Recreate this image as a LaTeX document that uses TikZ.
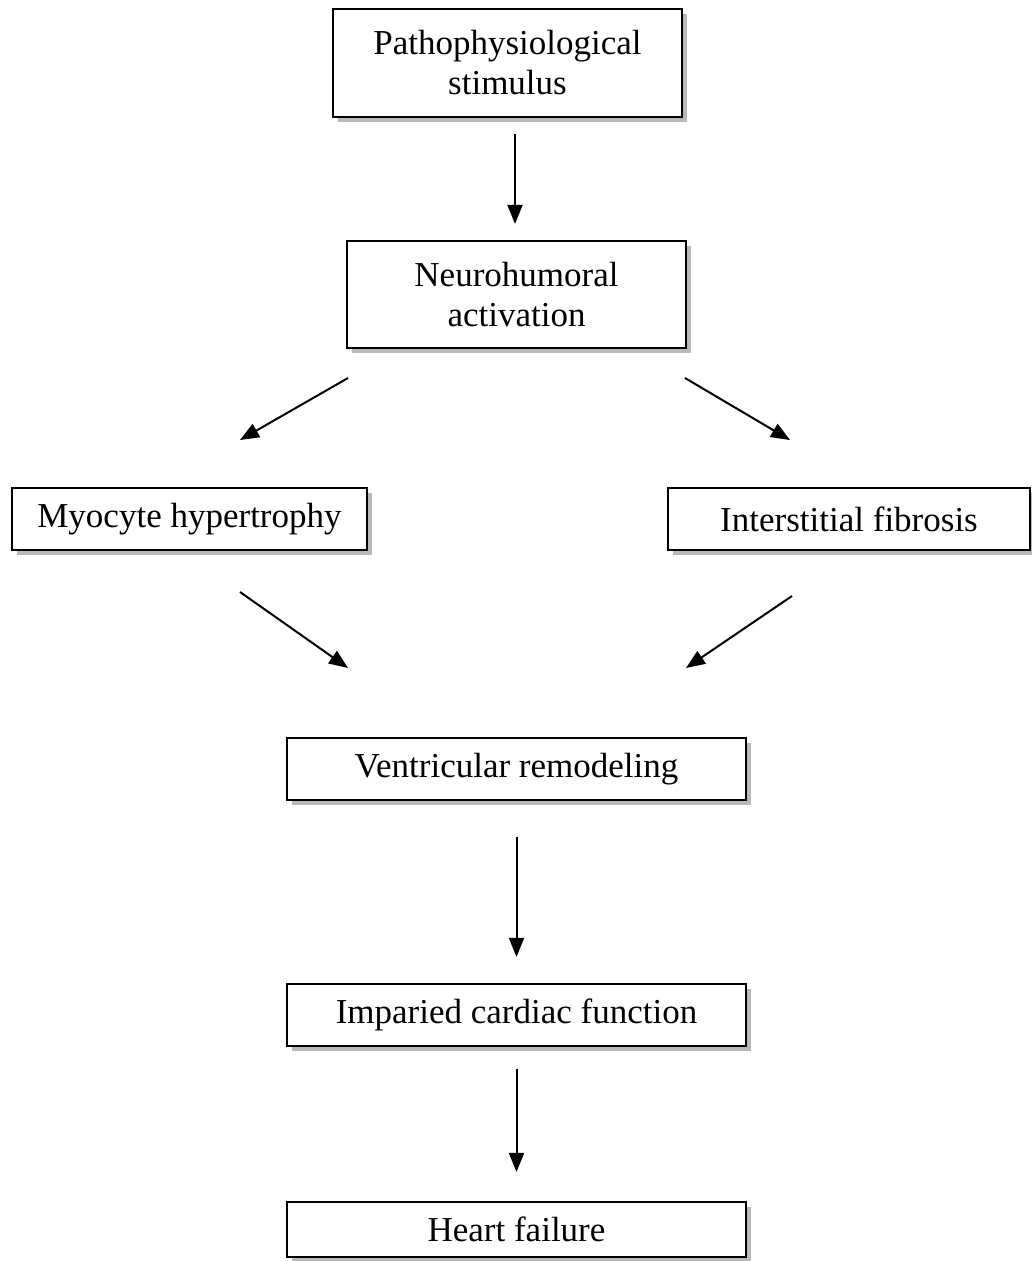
\documentclass[tikz,border=0pt]{standalone}
\usepackage{fontspec}
\setmainfont{Liberation Serif}
\usetikzlibrary{arrows.meta,shadows}
\begin{document}
\begin{tikzpicture}[x=1pt,y=-1pt,
  box/.style={draw=black, line width=2.2pt, fill=white, inner sep=0pt, align=center,
    font=\fontsize{35}{40}\selectfont,
    drop shadow={shadow xshift=5pt, shadow yshift=-5pt, fill=gray!55, opacity=1}},
  arr/.style={-{Triangle[length=19pt,width=15pt]}, line width=2pt}]
\useasboundingbox (0,0) rectangle (1031,1261);
\node[box, minimum width=349pt, minimum height=108pt] (stim) at (507.5,63) {Pathophysiological\\stimulus};
\node[box, minimum width=339pt, minimum height=107pt] (neuro) at (516.5,294.5) {Neurohumoral\\activation};
\node[box, minimum width=355pt, minimum height=62pt] (myo) at (189.5,519) {Myocyte hypertrophy};
\node[box, minimum width=362pt, minimum height=62pt] (fib) at (849,519) {Interstitial fibrosis};
\node[box, minimum width=459pt, minimum height=62pt] (vent) at (516.5,769) {Ventricular remodeling};
\node[box, minimum width=459pt, minimum height=62pt] (imp) at (516.5,1015) {Imparied cardiac function};
\node[box, minimum width=459pt, minimum height=55pt] (hf) at (516.5,1229.5) {Heart failure};
% free arrow ends
\coordinate (nl1) at (348,378); \coordinate (nl2) at (240,440);
\coordinate (nr1) at (685,378); \coordinate (nr2) at (790,440);
\coordinate (ml1) at (240,592); \coordinate (ml2) at (348,668);
\coordinate (fr1) at (792,596); \coordinate (fr2) at (686,668);
\draw[arr, shorten <=16pt, shorten >=16pt] (stim.south -| 515,0) -- (neuro.north -| 515,0);
\draw[arr] (nl1) -- (nl2);
\draw[arr] (nr1) -- (nr2);
\draw[arr] (ml1) -- (ml2);
\draw[arr] (fr1) -- (fr2);
\draw[arr, shorten <=36pt, shorten >=26pt] (vent.south) -- (imp.north);
\draw[arr, shorten <=22pt, shorten >=29pt] (imp.south) -- (hf.north);
\end{tikzpicture}
\end{document}
